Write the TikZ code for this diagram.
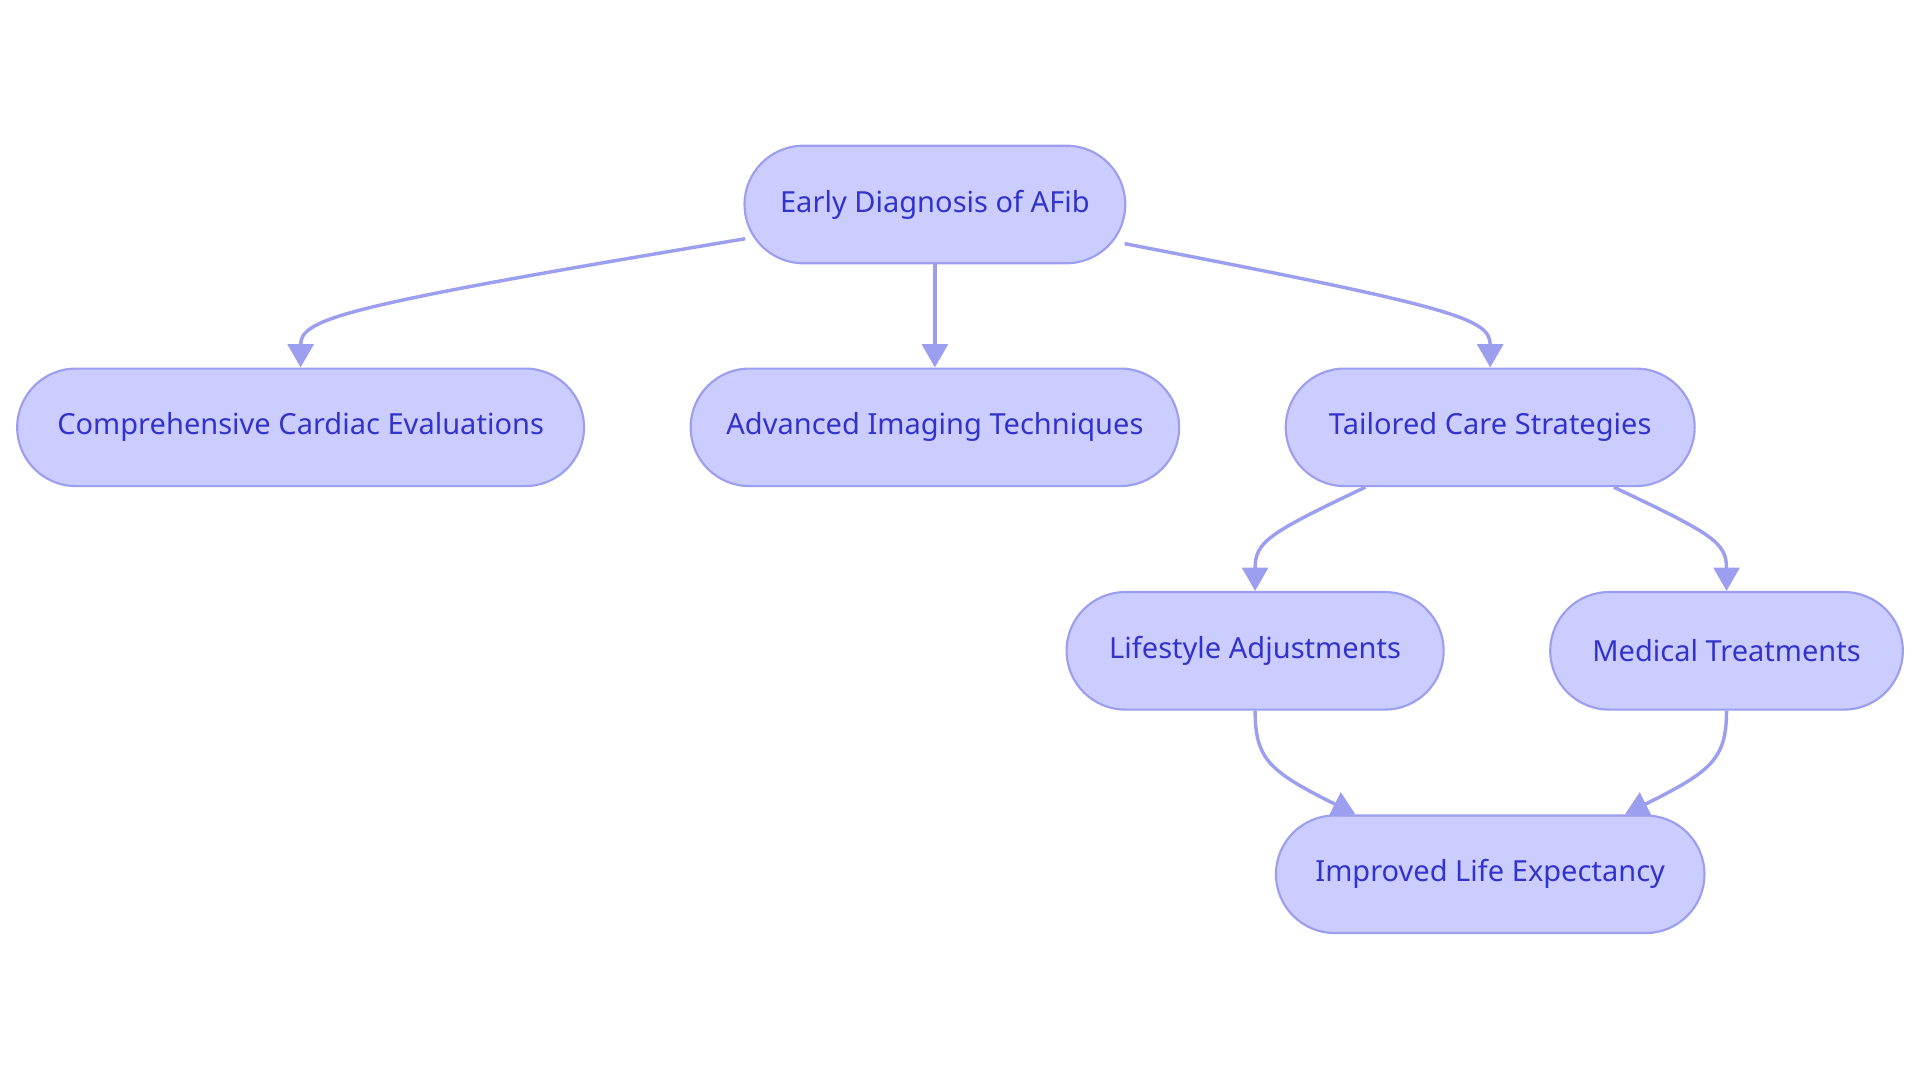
\documentclass[tikz,border=0pt]{standalone}
\usepackage{fontspec}
\setmainfont{Noto Sans}
\usetikzlibrary{shapes.misc,arrows.meta}
\definecolor{nfill}{HTML}{CBCCFF}
\definecolor{nline}{HTML}{9C9FEF}
\definecolor{ntext}{HTML}{3333CC}
\tikzset{
  box/.style={rounded rectangle, draw=nline, fill=nfill, line width=1pt, text=ntext,
    minimum height=1.92cm, inner xsep=0pt, font=\fontsize{13.5}{16}\selectfont},
  conn/.style={draw=nline, line width=1.6pt, -{Triangle[length=0.38cm,width=0.42cm]}}
}
\begin{document}
\begin{tikzpicture}[x=0.02cm,y=-0.02cm]
\useasboundingbox (0,0) rectangle (1568,884);
\node[box, minimum width=6.22cm] (e) at (763.5,167) {Early Diagnosis of AFib};
\node[box, minimum width=9.26cm] (c) at (245.5,349) {Comprehensive Cardiac Evaluations};
\node[box, minimum width=7.98cm] (a) at (763.5,349) {Advanced Imaging Techniques};
\node[box, minimum width=6.68cm] (t) at (1217,349) {Tailored Care Strategies};
\node[box, minimum width=6.16cm] (l) at (1025,531.5) {Lifestyle Adjustments};
\node[box, minimum width=5.76cm] (m) at (1410,531.5) {Medical Treatments};
\node[box, minimum width=7.0cm] (i) at (1217,714) {Improved Life Expectancy};
\draw[conn] ([xshift=-3.1cm,yshift=-0.56cm]e.center) .. controls ++(-330,55) and ++(0,-40) .. (c.north);
\draw[conn] (e.south) -- (a.north);
\draw[conn] ([xshift=3.1cm,yshift=-0.64cm]e.center) .. controls ++(270,52) and ++(0,-40) .. (t.north);
\draw[conn] ([xshift=-2.04cm]t.south) .. controls ++(-80,38) and ++(0,-40) .. (l.north);
\draw[conn] ([xshift=2.02cm]t.south) .. controls ++(80,38) and ++(0,-40) .. (m.north);
\draw[conn] (l.south) .. controls ++(0,40) and ++(-70,-35) .. ([xshift=-2.2cm]i.north);
\draw[conn] (m.south) .. controls ++(0,40) and ++(70,-35) .. ([xshift=2.2cm]i.north);
\end{tikzpicture}
\end{document}
